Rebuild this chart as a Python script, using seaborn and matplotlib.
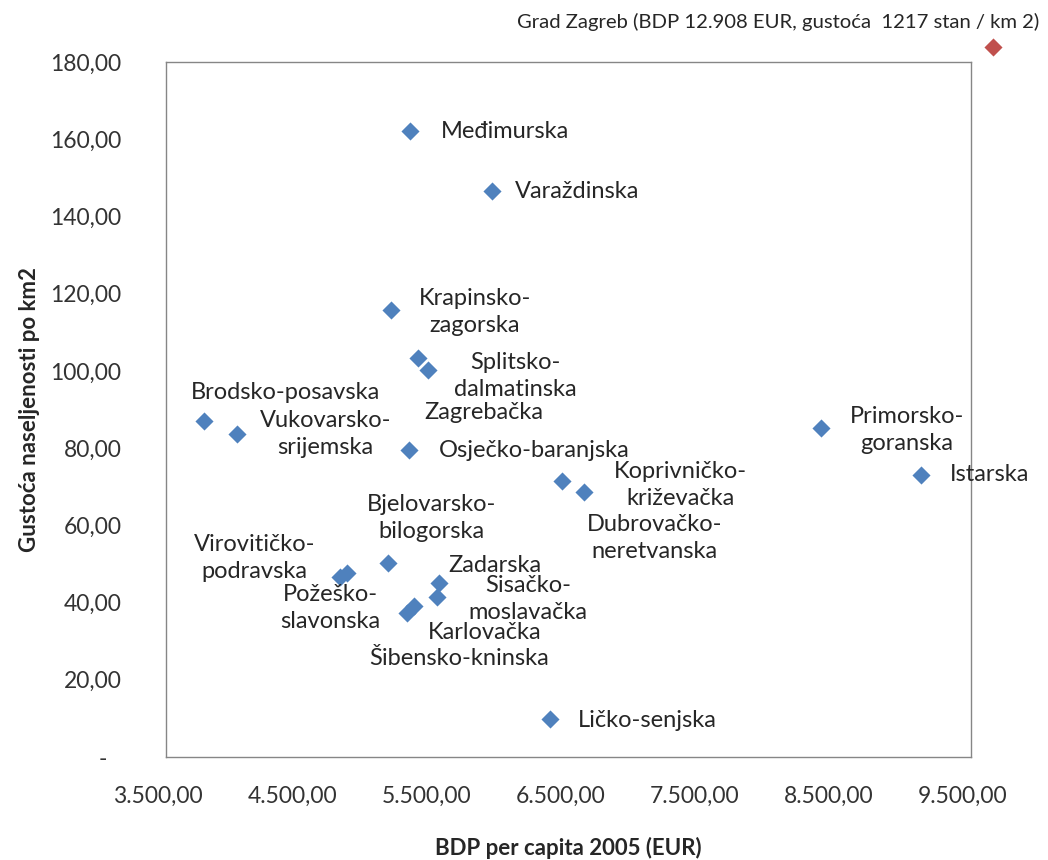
import matplotlib
matplotlib.use("Agg")
import matplotlib.pyplot as plt
import matplotlib.transforms as mtransforms
from matplotlib.ticker import FuncFormatter
import seaborn as sns
import pandas as pd

sns.set_style("white")
plt.rcParams["font.family"] = ["Lato", "DejaVu Sans"]

# ---- data ----
regions = [
    "Međimurska", "Varaždinska", "Krapinsko-\nzagorska", "Splitsko-\ndalmatinska",
    "Zagrebačka", "Brodsko-posavska", "Vukovarsko-\nsrijemska", "Osječko-baranjska",
    "Primorsko-\ngoranska", "Istarska", "Koprivničko-\nkriževačka", "Dubrovačko-\nneretvanska",
    "Bjelovarsko-\nbilogorska", "Virovitičko-\npodravska", "Požeško-\nslavonska", "Zadarska",
    "Sisačko-\nmoslavačka", "Karlovačka", "Šibensko-kninska", "Ličko-senjska",
]
bdp = [5319, 5930, 5177, 5380, 5455, 3783, 4031, 5311, 8380, 9127,
       6452, 6615, 5152, 4847, 4797, 5535, 5522, 5351, 5298, 6362]
density = [162.1, 146.6, 115.8, 103.3, 100.3, 87.1, 83.7, 79.5, 85.1, 73.0,
           71.6, 68.6, 50.3, 47.7, 46.5, 45.0, 41.5, 39.2, 37.4, 9.8]

# Grad Zagreb is drawn above the axis range, as in the original
zagreb_label = "Grad Zagreb (BDP 12.908 EUR, gustoća  1217 stan / km 2)"
zagreb_x = 9664
zagreb_y = 184.0

x_ticks = [3500, 4500, 5500, 6500, 7500, 8500, 9500]
y_ticks = [0, 20, 40, 60, 80, 100, 120, 140, 160, 180]

# label offsets from their point, in pixels (dx right, dy up)
label_offsets = [
    (95, 0), (85, -1), (84, -2), (97, -18), (56, -43), (82, 28), (88, 0), (125, 0),
    (86, -2), (69, 1), (118, -4), (71, -46), (44, 45), (-92, 15), (-10, -31), (56, 18),
    (91, -2), (70, -27), (52, -46), (97, -1),
]

df = pd.DataFrame({"region": regions, "bdp": bdp, "density": density})

BLUE = "#4F81BD"
RED = "#C0504D"
TXT = "#262626"

fig = plt.figure(figsize=(10.48, 8.6), dpi=100)
ax = fig.add_axes([166 / 1048, 1 - 757 / 860, 805 / 1048, 695 / 860])

sns.scatterplot(data=df, x="bdp", y="density", marker="D", s=85, color=BLUE,
                linewidth=0, ax=ax, zorder=3)
ax.scatter([zagreb_x], [zagreb_y], marker="D", s=85, color=RED, linewidth=0,
           clip_on=False, zorder=3)

for name, x, y, (dx, dy) in zip(regions, bdp, density, label_offsets):
    ax.annotate(name, (x, y), xytext=(dx, dy), textcoords="offset pixels",
                ha="center", va="center", multialignment="center",
                fontsize=17, color=TXT, linespacing=1.35, annotation_clip=False)
ax.annotate(zagreb_label, (zagreb_x, zagreb_y), xytext=(-215, 25),
            textcoords="offset pixels", ha="center", va="center",
            fontsize=14.6, color=TXT, annotation_clip=False)

ax.set_xlim(3500, 9500)
ax.set_ylim(0, 180)
ax.set_xticks(x_ticks)
ax.set_yticks(y_ticks)


def fmt_num(v, pos=None):
    if abs(v) < 1e-9:
        return "-"
    s = f"{v:,.2f}"
    return s.replace(",", "X").replace(".", ",").replace("X", ".")


ax.xaxis.set_major_formatter(FuncFormatter(fmt_num))
ax.yaxis.set_major_formatter(FuncFormatter(fmt_num))
ax.tick_params(axis="both", length=0, labelsize=16.5, labelcolor="#333333")
ax.tick_params(axis="y", pad=32)
ax.tick_params(axis="x", pad=21)

fig.canvas.draw()
shift_x = mtransforms.ScaledTranslation(-8 / 100, 0, fig.dpi_scale_trans)
for lab in ax.get_xticklabels():
    lab.set_transform(lab.get_transform() + shift_x)
shift_zero = mtransforms.ScaledTranslation(-15 / 100, 0, fig.dpi_scale_trans)
for lab in ax.get_yticklabels():
    if lab.get_text() == "-":
        lab.set_transform(lab.get_transform() + shift_zero)

for sp in ax.spines.values():
    sp.set_visible(True)
    sp.set_color("#868686")
    sp.set_linewidth(1.0)

ax.set_xlabel("BDP per capita 2005 (EUR)", fontsize=16, fontweight="bold", color=TXT)
ax.set_ylabel("Gustoća naseljenosti po km2", fontsize=16, fontweight="bold", color=TXT)
ax.xaxis.set_label_coords(0.5, -(848 - 757) / 695)
ax.yaxis.set_label_coords(-(166 - 30) / 805, 0.5)
ax.xaxis.label.set_va("center")
ax.yaxis.label.set_va("center")

fig.savefig("out.png", dpi=100)
